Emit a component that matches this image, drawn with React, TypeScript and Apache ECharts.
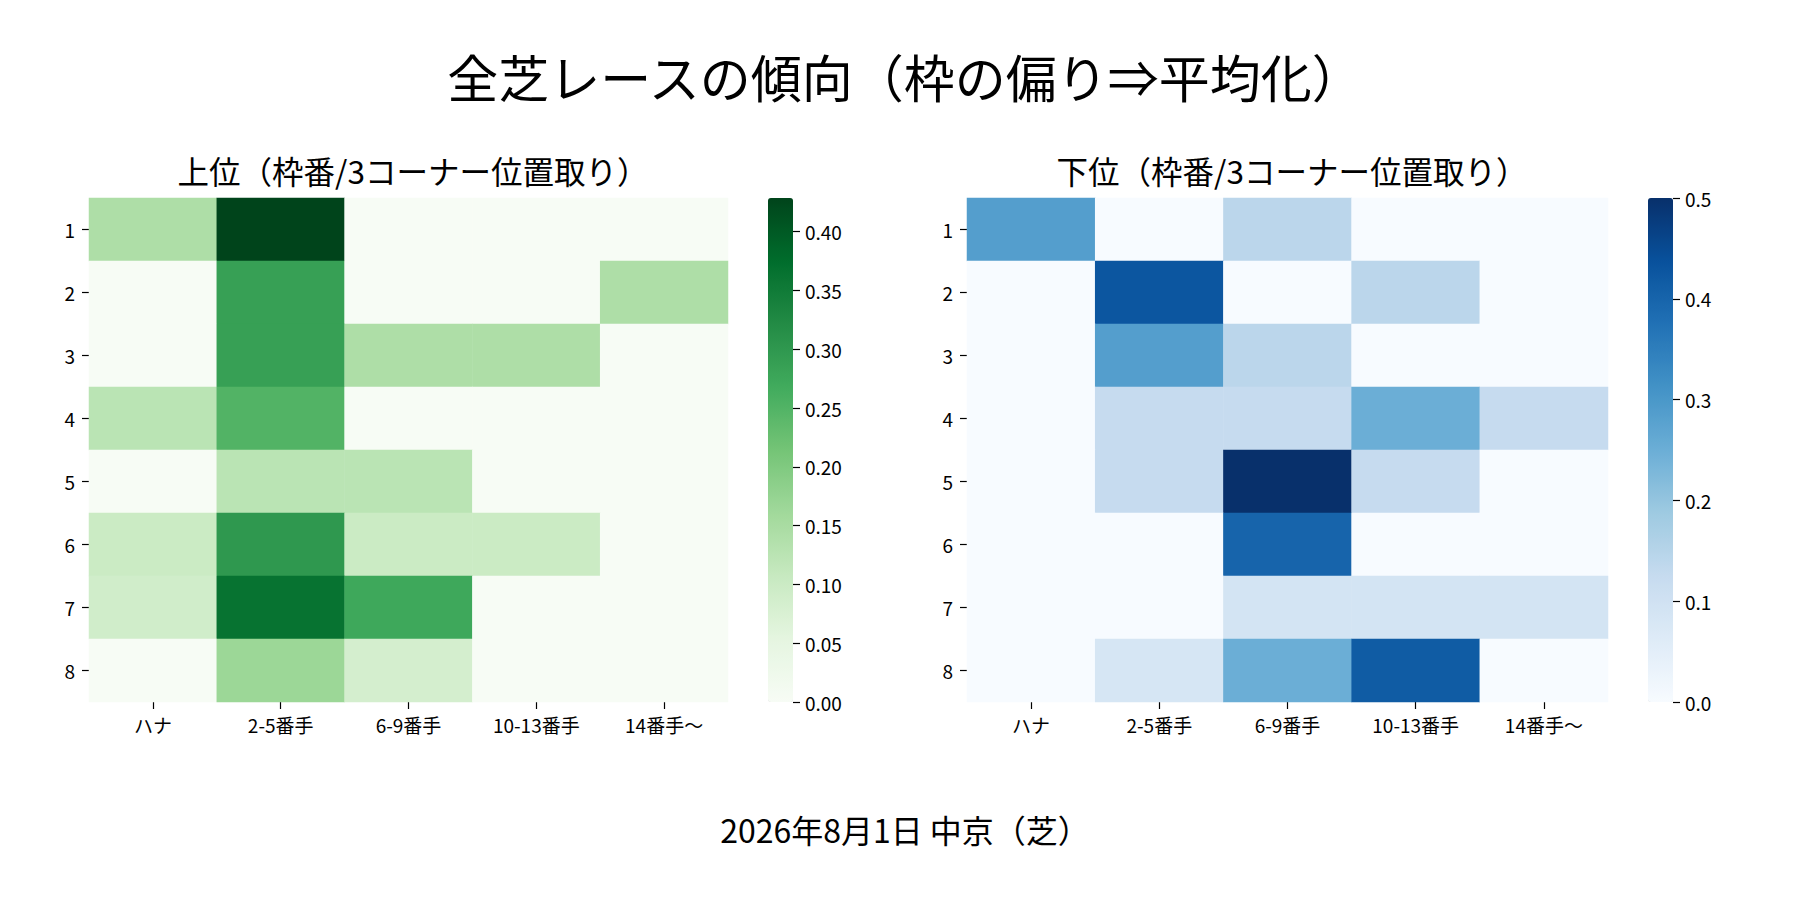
import React, { useEffect, useRef } from "react";
import * as echarts from "echarts";

const columns = ["ハナ", "2-5番手", "6-9番手", "10-13番手", "14番手〜"];
const frames = ["1", "2", "3", "4", "5", "6", "7", "8"];

// 上位: rows = 枠番 1..8, cols = 3コーナー位置取り
const upperValues = [
  [0.1429, 0.4286, 0, 0, 0],
  [0, 0.2857, 0, 0, 0.1429],
  [0, 0.2857, 0.1429, 0.1429, 0],
  [0.125, 0.25, 0, 0, 0],
  [0, 0.125, 0.125, 0, 0],
  [0.1, 0.3, 0.1, 0.1, 0],
  [0.0909, 0.3636, 0.2727, 0, 0],
  [0, 0.1667, 0.0833, 0, 0],
];

// 下位
const lowerValues = [
  [0.2857, 0, 0.1429, 0, 0],
  [0, 0.4286, 0, 0.1429, 0],
  [0, 0.2857, 0.1429, 0, 0],
  [0, 0.125, 0.125, 0.25, 0.125],
  [0, 0.125, 0.5, 0.125, 0],
  [0, 0, 0.4, 0, 0],
  [0, 0, 0.0909, 0.0909, 0.0909],
  [0, 0.0833, 0.25, 0.4167, 0],
];

// colorbar ticks: [top tick, step]
const greenTicks = [0.4, 0.05];
const blueTicks = [0.5, 0.1];

const greens = ["#f7fcf5", "#e5f5e0", "#c7e9c0", "#a1d99b", "#74c476", "#41ab5d", "#238b45", "#006d2c", "#00441b"];
const blues = ["#f7fbff", "#deebf7", "#c6dbef", "#9ecae1", "#6baed6", "#4292c6", "#2171b5", "#08519c", "#08306b"];

const FONT = "'Noto Sans CJK JP', 'Noto Sans', sans-serif";

const TOP = 198;
const H = 504;

const toCells = (m: number[][]) =>
  m.flatMap((row, r) => row.map((v, c) => [c, r, v]));

const maxOf = (m: number[][]) => Math.max(...m.flat());

const App: React.FC = () => {
  const chartRef = useRef<HTMLDivElement>(null);

  useEffect(() => {
    document.body.style.margin = "0";
    if (!chartRef.current) return;
    const chart = echarts.init(chartRef.current, null, { renderer: "svg" });

    const upperMax = maxOf(upperValues);
    const lowerMax = maxOf(lowerValues);

    const tickStyle = { show: true, inside: false, length: 7, lineStyle: { color: "#000", width: 1.2 } };
    const labelStyle = { color: "#000", fontSize: 19, fontFamily: FONT };

    const heatX = (gridIndex: number) => ({
      type: "category" as const,
      gridIndex,
      data: columns,
      axisLine: { show: false },
      axisTick: { ...tickStyle, alignWithLabel: true },
      axisLabel: { ...labelStyle, margin: 13 },
      splitArea: { show: false },
    });
    const heatY = (gridIndex: number) => ({
      type: "category" as const,
      gridIndex,
      data: frames,
      inverse: true,
      axisLine: { show: false },
      axisTick: { ...tickStyle, alignWithLabel: true },
      axisLabel: { ...labelStyle, margin: 14 },
      splitArea: { show: false },
    });
    const barX = (gridIndex: number) => ({
      type: "value" as const,
      gridIndex,
      show: false,
    });
    const barY = (gridIndex: number, ticks: number[], digits: number) => ({
      type: "value" as const,
      gridIndex,
      position: "right" as const,
      z: 20,
      min: 0,
      max: ticks[0],
      interval: ticks[1],
      axisLine: { show: false, onZero: false },
      splitLine: { show: false },
      axisTick: { ...tickStyle },
      axisLabel: {
        ...labelStyle,
        margin: 12,
        formatter: (v: number) => v.toFixed(digits),
      },
    });
    // axis grid covers only 0..top tick of the colour bar
    const barGrid = (left: number, ticks: number[], max: number) => {
      const h = (H * ticks[0]) / max;
      return { left, top: TOP + H - h, width: 25, height: h };
    };

    const vm = (seriesIndex: number, max: number, colors: string[], left: number) =>
      ({
        type: "continuous",
        seriesIndex,
        min: 0,
        max,
        inRange: { color: colors },
        calculable: false,
        left,
        top: TOP,
        z: 1,
        itemWidth: 25,
        itemHeight: H,
        padding: 0,
        showLabel: false,
        hoverLink: false,
      }) as any;

    const option: echarts.EChartsOption = {
      animation: false,
      backgroundColor: "#fff",
      textStyle: { fontFamily: FONT },
      title: [
        {
          text: "全芝レースの傾向（枠の偏り⇒平均化）",
          left: 900,
          top: 45,
          textAlign: "center",
          textStyle: { fontSize: 51, fontWeight: "normal", color: "#000", fontFamily: FONT },
        },
        {
          text: "上位（枠番/3コーナー位置取り）",
          left: 408,
          top: 149,
          textAlign: "center",
          textStyle: { fontSize: 31.5, fontWeight: "normal", color: "#000", fontFamily: FONT },
        },
        {
          text: "下位（枠番/3コーナー位置取り）",
          left: 1287,
          top: 149,
          textAlign: "center",
          textStyle: { fontSize: 31.5, fontWeight: "normal", color: "#000", fontFamily: FONT },
        },
        {
          text: "2026年8月1日 中京（芝）",
          left: 900,
          top: 808,
          textAlign: "center",
          textStyle: { fontSize: 32, fontWeight: "normal", color: "#000", fontFamily: FONT },
        },
      ],
      grid: [
        { left: 89, top: TOP, width: 639, height: H },
        { left: 967, top: TOP, width: 641, height: H },
        barGrid(768, greenTicks, upperMax),
        barGrid(1648, blueTicks, lowerMax),
      ],
      xAxis: [heatX(0), heatX(1), barX(2), barX(3)],
      yAxis: [heatY(0), heatY(1), barY(2, greenTicks, 2), barY(3, blueTicks, 1)],
      visualMap: [vm(0, upperMax, greens, 768), vm(1, lowerMax, blues, 1648)],
      series: [
        {
          type: "heatmap",
          xAxisIndex: 0,
          yAxisIndex: 0,
          data: toCells(upperValues),
          itemStyle: { borderWidth: 0 },
          emphasis: { disabled: true },
        },
        {
          type: "heatmap",
          xAxisIndex: 1,
          yAxisIndex: 1,
          data: toCells(lowerValues),
          itemStyle: { borderWidth: 0 },
          emphasis: { disabled: true },
        },
      ],
    };

    chart.setOption(option);

    return () => {
      chart.dispose();
    };
  }, []);

  return <div ref={chartRef} style={{ width: "1800px", height: "900px" }} />;
};

export default App;
